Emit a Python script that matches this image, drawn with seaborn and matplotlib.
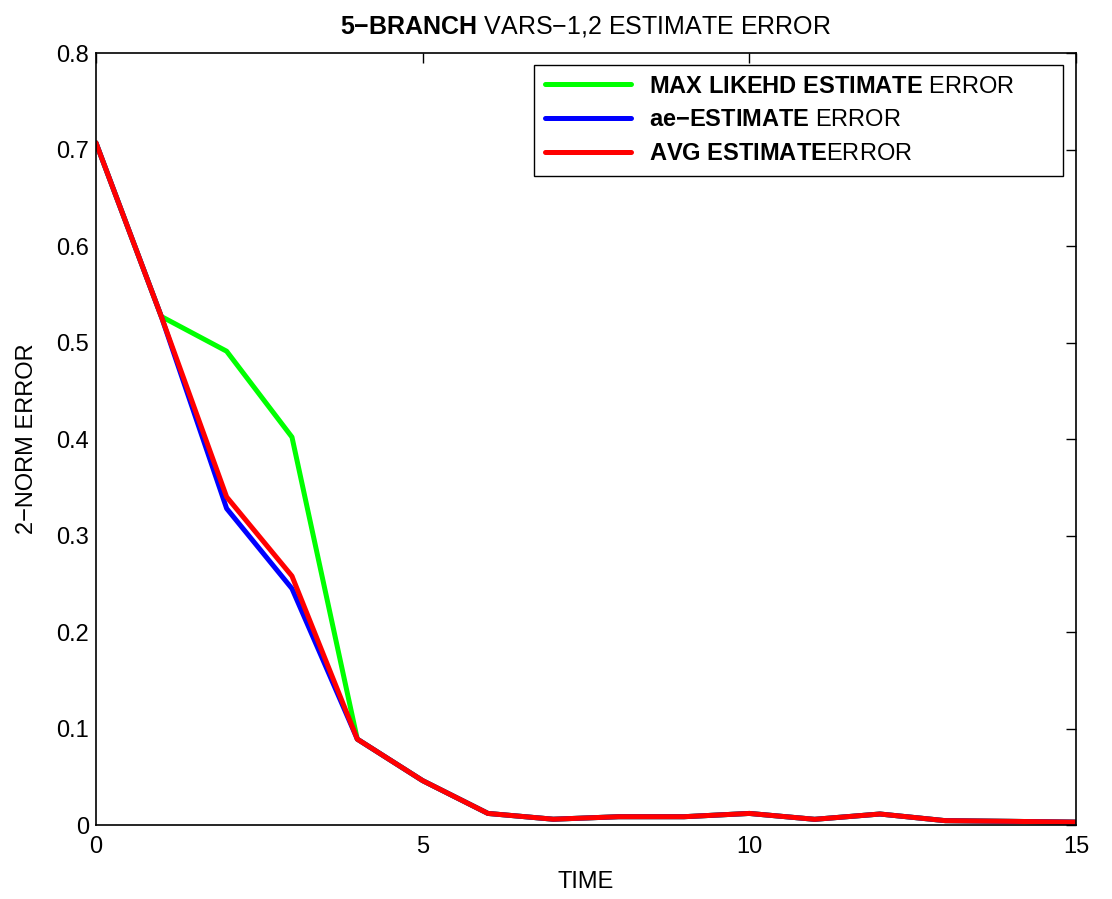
import numpy as np
import pandas as pd
import matplotlib
matplotlib.use("Agg")
import matplotlib.pyplot as plt
import seaborn as sns

# Estimate error over time for three estimators
time = list(range(16))
max_likehd = [0.707, 0.527, 0.491, 0.402, 0.089, 0.046, 0.012, 0.006, 0.0086, 0.0086,
              0.012, 0.0059, 0.0114, 0.0045, 0.0038, 0.003]
ae_est = [0.707, 0.527, 0.328, 0.245, 0.089, 0.046, 0.012, 0.006, 0.0086, 0.0086,
          0.012, 0.0059, 0.0114, 0.0045, 0.0038, 0.003]
avg_est = [0.707, 0.527, 0.340, 0.258, 0.089, 0.046, 0.012, 0.006, 0.0086, 0.0086,
           0.012, 0.0059, 0.0114, 0.0045, 0.0038, 0.003]

# bold prefix + plain suffix
series_labels = [r"$\bf{MAX\ LIKEHD\ ESTIMATE}$ ERROR",
                 r"$\bf{ae{-}ESTIMATE}$ ERROR",
                 r"$\bf{AVG\ ESTIMATE}$ERROR"]
series_colors = ["#00ff00", "#0000ff", "#ff0000"]

x_ticks = [0, 5, 10, 15]
y_ticks = [0, 0.1, 0.2, 0.3, 0.4, 0.5, 0.6, 0.7, 0.8]
y_tick_labels = ["0", "0.1", "0.2", "0.3", "0.4", "0.5", "0.6", "0.7", "0.8"]

df = pd.DataFrame({
    "TIME": time * 3,
    "ERR": max_likehd + ae_est + avg_est,
    "series": [series_labels[0]] * 16 + [series_labels[1]] * 16 + [series_labels[2]] * 16,
})

sns.set_style("white")
plt.rcParams["font.family"] = ["Liberation Sans", "DejaVu Sans"]
plt.rcParams["mathtext.fontset"] = "custom"
plt.rcParams["mathtext.rm"] = "Liberation Sans"
plt.rcParams["mathtext.bf"] = "Liberation Sans:bold"
plt.rcParams["mathtext.it"] = "Liberation Sans:italic"
plt.rcParams["text.color"] = "black"
plt.rcParams["axes.labelcolor"] = "black"

fig = plt.figure(figsize=(11.12, 8.99), dpi=100)
ax = fig.add_axes([0.0863, 0.0823, 0.8813, 0.8587])

sns.lineplot(data=df, x="TIME", y="ERR", hue="series", hue_order=series_labels,
             palette=series_colors, linewidth=3.6, ax=ax, estimator=None, sort=False)

ax.set_xlim(0, 15)
ax.set_ylim(0, 0.8)
ax.set_xticks(x_ticks)
ax.set_yticks(y_ticks)
ax.set_yticklabels(y_tick_labels)
ax.tick_params(direction="in", length=7, width=1, labelsize=17, colors="black",
               labelcolor="black", top=True, right=True)
ax.tick_params(axis="x", pad=8)
ax.tick_params(axis="y", pad=5)
for side in ax.spines.values():
    side.set_color("black")
    side.set_linewidth(1.2)

ax.set_xlabel("TIME", fontsize=17, labelpad=9)
ax.set_ylabel("2\u2212NORM ERROR", fontsize=17, labelpad=13)
ax.set_title("$\\bf{5{-}BRANCH}$ VARS\u22121,2 ESTIMATE ERROR", fontsize=18, pad=14)

# legend frame stretched over a fixed-width anchor box in the upper right
leg = ax.legend(loc="upper right", bbox_to_anchor=(0.4469, 0.80, 0.5398, 0.1845),
                mode="expand", borderaxespad=0,
                fontsize=17, handlelength=3.65, frameon=True, fancybox=False,
                borderpad=0.45, labelspacing=0.50, handletextpad=0.79)
leg.get_frame().set_edgecolor("black")
leg.get_frame().set_linewidth(1.0)
leg.get_frame().set_alpha(1.0)
for line in leg.get_lines():
    line.set_linewidth(3.6)

fig.savefig("out.png", dpi=100, facecolor="white")
